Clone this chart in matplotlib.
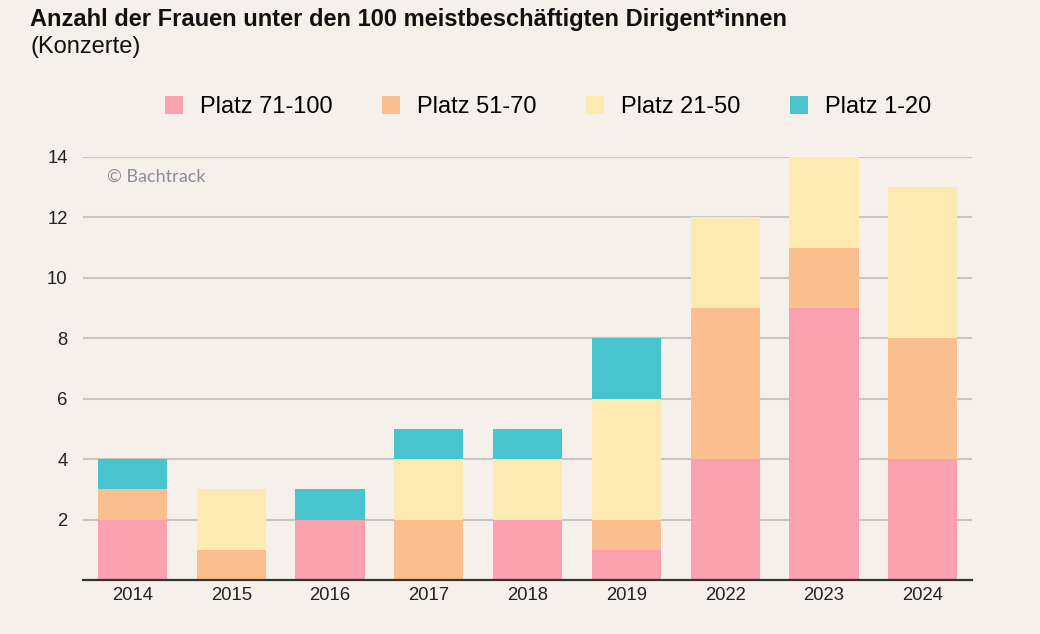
import numpy as np
import matplotlib.pyplot as plt

# --- Daten ---
jahre = ["2014", "2015", "2016", "2017", "2018", "2019", "2022", "2023", "2024"]
platz_71_100 = [2, 0, 2, 0, 2, 1, 4, 9, 4]
platz_51_70 = [1, 1, 0, 2, 0, 1, 5, 2, 4]
platz_21_50 = [0, 2, 0, 2, 2, 4, 3, 3, 5]
platz_1_20 = [1, 0, 1, 1, 1, 2, 0, 0, 0]

serien = [
    ("Platz 71-100", platz_71_100, "#F9A1AF"),
    ("Platz 51-70", platz_51_70, "#FBBE8F"),
    ("Platz 21-50", platz_21_50, "#FDEAB1"),
    ("Platz 1-20", platz_1_20, "#47C4CE"),
]

bg = "#F5F1EA"
plt.rcParams['font.family'] = ['Liberation Sans', 'DejaVu Sans']

fig = plt.figure(figsize=(10.4, 6.34), dpi=100, facecolor=bg)
ax = fig.add_axes([0.0798, 0.0852, 0.855, 0.6672], facecolor=bg)

x = np.arange(len(jahre))
bottom = np.zeros(len(jahre))
for name, werte, farbe in serien:
    werte = np.array(werte, dtype=float)
    ax.bar(x, werte, width=0.7, bottom=bottom, color=farbe, label=name, zorder=3)
    bottom += werte

ax.set_xlim(-0.5, len(jahre) - 0.5)
ax.set_ylim(0, 14)
ax.set_yticks([2, 4, 6, 8, 10, 12, 14])
ax.set_xticks(x)
ax.set_xticklabels(jahre)
ax.yaxis.grid(True, color="#C9C5C1", linewidth=1.5, zorder=0)
ax.set_axisbelow(True)
for s in ["top", "right", "left"]:
    ax.spines[s].set_visible(False)
ax.spines["bottom"].set_color("#333333")
ax.spines["bottom"].set_linewidth(1.6)
ax.spines["bottom"].set_zorder(4)
ax.tick_params(axis="both", length=0, labelsize=13.3, colors="#222222")
ax.tick_params(axis="y", pad=11)
ax.tick_params(axis="x", pad=5)

ax.text(0.027, 0.971, "© Bachtrack", transform=ax.transAxes, fontsize=13,
        color="#8C8C9C", ha="left", va="top", family=["Lato", "DejaVu Sans"])

fig.text(0.029, 0.970, "Anzahl der Frauen unter den 100 meistbeschäftigten Dirigent*innen",
         fontsize=17, fontweight="bold", ha="left", va="center", color="#111111")
fig.text(0.029, 0.926, "(Konzerte)", fontsize=17, ha="left", va="center", color="#111111")

fig.legend(loc="center", bbox_to_anchor=(0.527, 0.831), ncol=4, frameon=False,
           fontsize=17, handlelength=0.75, handleheight=0.75, handletextpad=0.7,
           columnspacing=2.13)

fig.savefig("out.png", dpi=100, facecolor=bg)
